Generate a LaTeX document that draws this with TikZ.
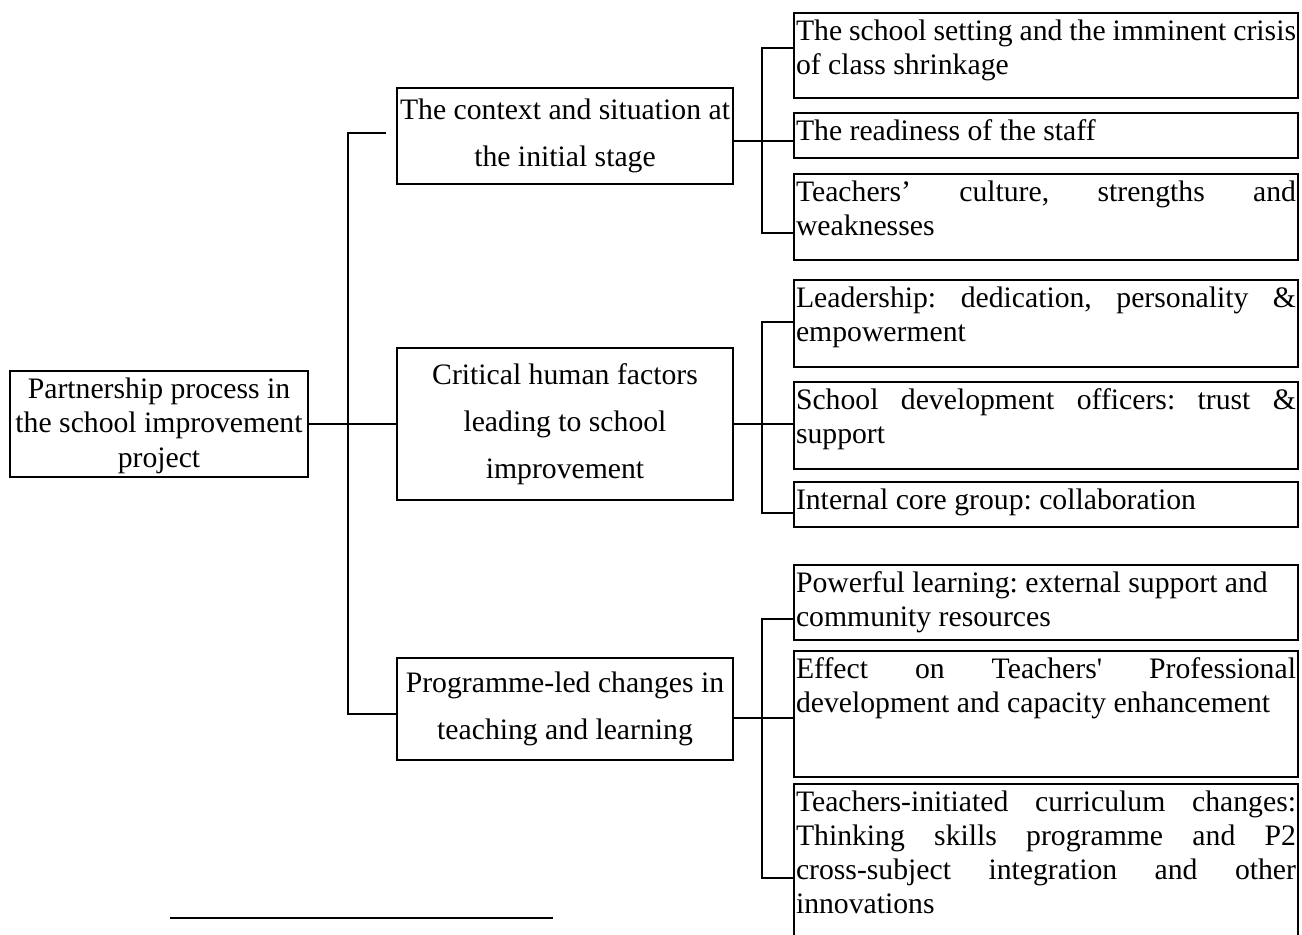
\documentclass[tikz,border=0pt]{standalone}
\usepackage{fontspec}
\setmainfont{Liberation Serif}
\frenchspacing
\newcommand\rtext[2]{\parbox[c][#1pt][t]{250pt}{\frenchspacing\fontsize{14.85pt}{17pt}\selectfont\rule{0pt}{13.5pt}#2}}
\newcommand\jl[1]{\makebox[\linewidth][s]{#1}}
\begin{document}
\begin{tikzpicture}[x=0.5pt,y=-0.5pt,line width=1pt,
  lbox/.style={draw, align=center, inner sep=0pt, minimum width=168pt,
    font=\fontsize{14.85pt}{23.5pt}\selectfont},
  rootbox/.style={draw, align=center, inner sep=0pt, minimum width=149pt,
    minimum height=53pt, font=\fontsize{14.85pt}{17.25pt}\selectfont},
  rbox/.style={draw, inner xsep=1pt, inner ysep=0pt, anchor=north west},
  conn/.style={line width=1pt}]
\useasboundingbox (0,0) rectangle (1302,934);
\clip (0,0) rectangle (1302,934);
\fill[white] (0,0) rectangle (1302,934);

% root and level-1 boxes
\node[rootbox] (root) at (159,424) {\rule{0pt}{12pt}Partnership process in\\the school improvement\\project};
\node[lbox, minimum height=48pt] (A) at (565,136) {The context and situation at\\the initial stage};
\node[lbox, minimum height=76pt] (B) at (565,424) {Critical human factors\\leading to school\\improvement};
\node[lbox, minimum height=51pt] (C) at (565,708.5) {Programme-led changes in\\teaching and learning};

% level-2 boxes
\node[rbox] (R1) at (793,12) {\rtext{42.5}{\jl{The school setting and the imminent crisis}\\of class shrinkage}};
\node[rbox] (R2) at (793,112) {\rtext{22.5}{The readiness of the staff}};
\node[rbox] (R3) at (793,173) {\rtext{43}{\jl{Teachers’ culture, strengths and}\\weaknesses}};
\node[rbox] (R4) at (793,279) {\rtext{43.5}{\jl{Leadership: dedication, personality \&}\\empowerment}};
\node[rbox] (R5) at (793,381) {\rtext{43.5}{\jl{School development officers: trust \&}\\support}};
\node[rbox] (R6) at (793,481) {\rtext{22.5}{Internal core group: collaboration}};
\node[rbox] (R7) at (793,564) {\rtext{37.5}{Powerful learning: external support and\\community resources}};
\node[rbox] (R8) at (793,650) {\rtext{63}{\jl{Effect on Teachers\textquotesingle{} Professional}\\development and capacity enhancement}};
\node[rbox] (R9) at (793,783) {\rtext{110}{\jl{Teachers-initiated curriculum changes:}\\\jl{Thinking skills programme and P2}\\\jl{cross-subject integration and other}\\innovations}};

% trunk
\coordinate (tTop) at (348,133);
\coordinate (tBot) at (348,714);
\coordinate (tEnd) at (386,133);
\draw[conn] (tEnd) -- (tTop) -- (tBot) -- (C.west |- tBot);
\draw[conn] (root) -- (B);

% group 1
\coordinate (g1t) at (762,48);
\coordinate (g1m) at (762,141);
\coordinate (g1b) at (762,233);
\draw[conn] (R1.west |- g1t) -- (g1t) -- (g1b) -- (R3.west |- g1b);
\draw[conn] (A.east |- g1m) -- (R2.west |- g1m);

% group 2
\coordinate (g2t) at (762,322);
\coordinate (g2m) at (762,424);
\coordinate (g2b) at (762,513);
\draw[conn] (R4.west |- g2t) -- (g2t) -- (g2b) -- (R6.west |- g2b);
\draw[conn] (B.east |- g2m) -- (R5.west |- g2m);

% group 3
\coordinate (g3t) at (762,619);
\coordinate (g3m) at (762,718);
\coordinate (g3b) at (762,878);
\draw[conn] (R7.west |- g3t) -- (g3t) -- (g3b) -- (R9.west |- g3b);
\draw[conn] (C.east |- g3m) -- (R8.west |- g3m);

% footnote rule
\coordinate (fnA) at (170,918);
\coordinate (fnB) at (553,918);
\draw[line width=0.8pt] (fnA) -- (fnB);
\end{tikzpicture}
\end{document}
